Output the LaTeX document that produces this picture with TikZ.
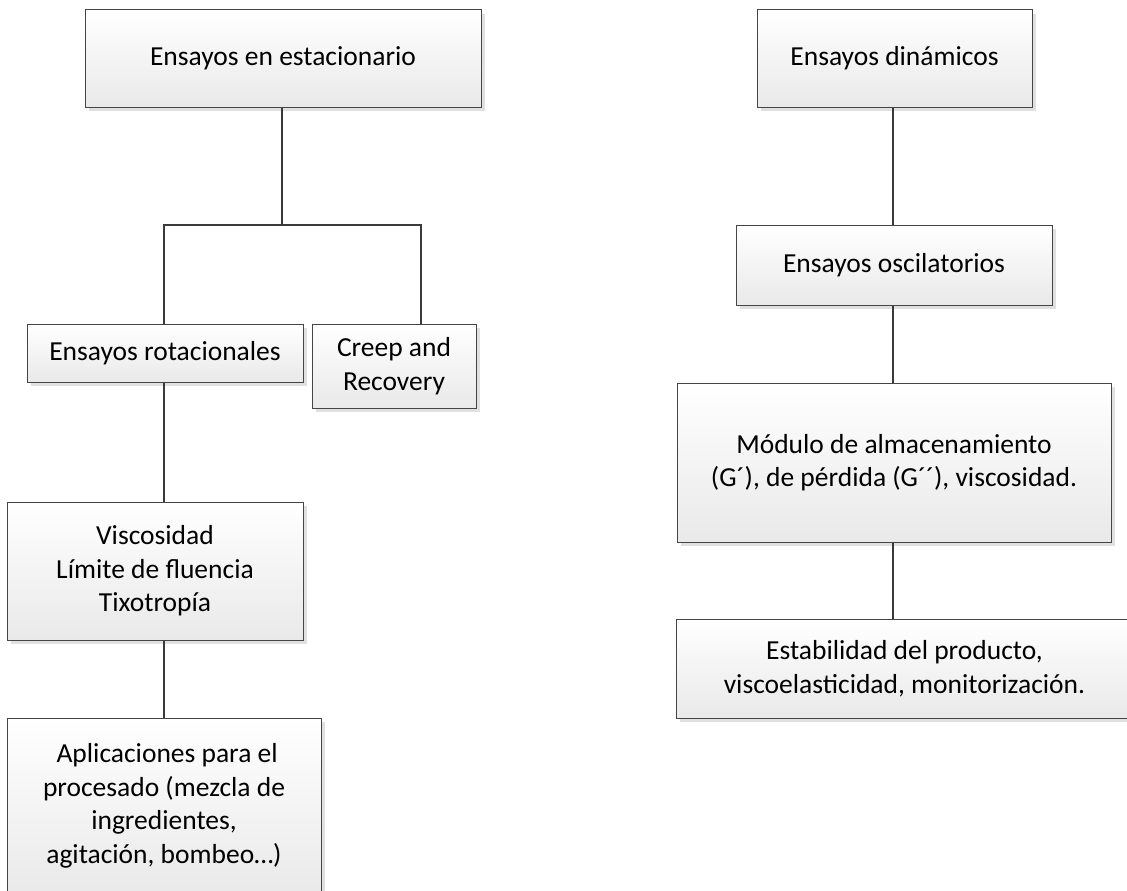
\documentclass[tikz,border=0pt]{standalone}
\usepackage{fontspec}
\setmainfont{Carlito}
\usetikzlibrary{shadows}
\definecolor{edge}{HTML}{454545}
\definecolor{wire}{HTML}{3A3A3A}
\definecolor{boxbot}{HTML}{E9E9E9}
\tikzset{
  box/.style={draw=edge, line width=1pt, rectangle, inner sep=0pt,
    top color=white, bottom color=boxbot, align=center,
    font=\fontsize{27.5}{33.5}\selectfont, text=black,
    drop shadow={shadow xshift=4pt, shadow yshift=-4pt, fill=black!12, opacity=1}},
  wirel/.style={draw=wire, line width=2pt}
}
\begin{document}
\begin{tikzpicture}[x=1pt,y=-1pt]
\useasboundingbox (0,0) rectangle (1127,891);
\fill[white] (0,0) rectangle (1127,891);
\clip (0,0) rectangle (1127,891);
% left branch
\node[box, minimum width=396pt, minimum height=97pt] (est) at (283,58.5) {Ensayos en estacionario};
\node[box, minimum width=276pt, minimum height=58pt] (rot) at (165,353) {Ensayos rotacionales};
\node[box, minimum width=164pt, minimum height=84pt] (cre) at (394,366) {Creep and\\Recovery};
\node[box, minimum width=296pt, minimum height=138pt] (vis) at (155,571) {Viscosidad\\Límite de fluencia\\Tixotropía};
\node[box, minimum width=314pt, minimum height=176pt] (apl) at (164,806) {\ Aplicaciones para el\\procesado (mezcla de\\ingredientes,\\agitación, bombeo…)};
% right branch
\node[box, minimum width=275pt, minimum height=97pt] (din) at (894.5,58.5) {Ensayos dinámicos};
\node[box, minimum width=316pt, minimum height=80pt] (osc) at (894,265) {Ensayos oscilatorios};
\node[box, minimum width=434pt, minimum height=159pt] (mod) at (894,462.5) {Módulo de almacenamiento\\(G´), de pérdida (G´´), viscosidad.};
\node[box, minimum width=457pt, minimum height=99pt] (sta) at (904.5,668.5) {Estabilidad del producto,\\viscoelasticidad, monitorización.};
% connector coordinates
\coordinate (bL) at (164,225);
\coordinate (bR) at (421,225);
\coordinate (xL) at (164,0);
\coordinate (xM) at (282,0);
\coordinate (xR) at (893,0);
% connectors
\draw[wirel] (xM |- est.south) -- (xM |- bL);
\draw[wirel] (bL |- rot.north) -- (bL) -- (bR) -- (bR |- cre.north);
\draw[wirel] (xL |- rot.south) -- (xL |- vis.north);
\draw[wirel] (xL |- vis.south) -- (xL |- apl.north);
\draw[wirel] (xR |- din.south) -- (xR |- osc.north);
\draw[wirel] (xR |- osc.south) -- (xR |- mod.north);
\draw[wirel] (xR |- mod.south) -- (xR |- sta.north);
\end{tikzpicture}
\end{document}
